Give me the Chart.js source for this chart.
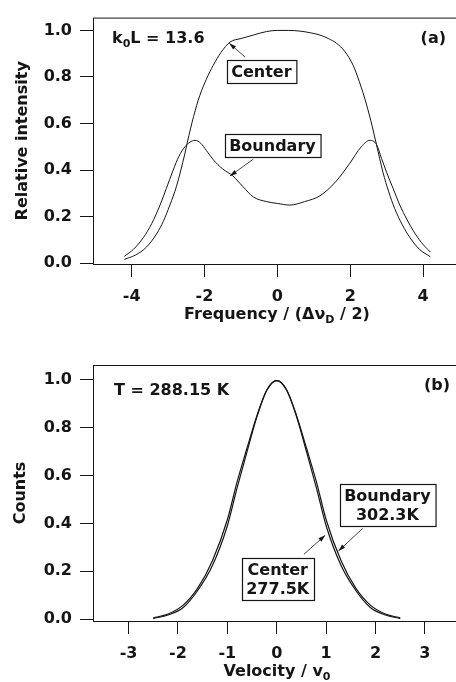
<!DOCTYPE html>
<html>
<head>
<meta charset="utf-8">
<script src="https://cdn.jsdelivr.net/npm/chart.js@4.4.0/dist/chart.umd.min.js"></script>
<style>
  body { margin: 0; background: #fff; }
  #wrap { position: relative; width: 456px; height: 682px; overflow: hidden; }
  canvas { position: absolute; left: 0; }
</style>
</head>
<body>
<div id="wrap">
  <canvas id="chartA" width="470" height="341" style="top:0"></canvas>
  <canvas id="chartB" width="470" height="341" style="top:341px"></canvas>
</div>
<script>
// (a) line profiles, k0L = 13.6
var freqCenter = [-4.2, -3.9, -3.59, -3.3, -3.13, -2.95, -2.77, -2.54, -2.47, -2.3, -2.13, -1.95, -1.76, -1.55, -1.3, -1.0, -0.66, -0.3, 0, 0.3, 0.62, 0.9, 1.17, 1.4, 1.62, 1.85, 2.08, 2.25, 2.45, 2.6, 2.72, 2.9, 3.05, 3.22, 3.43, 3.64, 3.9, 4.2];
var intCenter = [0.017, 0.035, 0.07, 0.13, 0.18, 0.25, 0.33, 0.47, 0.52, 0.63, 0.72, 0.79, 0.85, 0.905, 0.95, 0.965, 0.98, 0.995, 1.0, 1.0, 0.997, 0.99, 0.98, 0.965, 0.945, 0.91, 0.85, 0.78, 0.68, 0.59, 0.51, 0.39, 0.31, 0.235, 0.165, 0.11, 0.06, 0.028];
var freqBoundary = [-4.2, -3.95, -3.68, -3.45, -3.22, -3.05, -2.86, -2.7, -2.54, -2.4, -2.26, -2.1, -1.95, -1.76, -1.5, -1.22, -0.95, -0.66, -0.3, 0.0, 0.34, 0.75, 1.17, 1.6, 1.99, 2.3, 2.54, 2.72, 2.86, 3.0, 3.18, 3.36, 3.55, 3.73, 3.95, 4.2];
var intBoundary = [0.03, 0.06, 0.11, 0.17, 0.25, 0.32, 0.40, 0.46, 0.50, 0.52, 0.528, 0.515, 0.485, 0.445, 0.405, 0.375, 0.33, 0.285, 0.265, 0.257, 0.25, 0.265, 0.29, 0.35, 0.43, 0.50, 0.528, 0.51, 0.45, 0.39, 0.32, 0.25, 0.19, 0.14, 0.09, 0.048];
var freqTicks = [-4, -2, 0, 2, 4];

// (b) velocity distributions, T = 288.15 K
var velGrid = [-2.5, -2.2, -1.9, -1.6, -1.3, -1.0, -0.8, -0.6, -0.4, -0.2, 0, 0.2, 0.4, 0.6, 0.8, 1.0, 1.3, 1.6, 1.9, 2.2, 2.5];
var countsCenter = [0.003, 0.018, 0.048, 0.12, 0.225, 0.39, 0.55, 0.70, 0.845, 0.955, 0.995, 0.955, 0.845, 0.70, 0.55, 0.39, 0.225, 0.12, 0.048, 0.018, 0.003];
var countsBoundary = [0.006, 0.022, 0.058, 0.13, 0.245, 0.415, 0.575, 0.715, 0.85, 0.957, 0.995, 0.957, 0.85, 0.715, 0.575, 0.415, 0.245, 0.13, 0.058, 0.022, 0.006];
var velTicks = [-3, -2, -1, 0, 1, 2, 3];

var yTicks = [0, 0.2, 0.4, 0.6, 0.8, 1.0];

var FONT = '"DejaVu Sans", sans-serif';
var INK = '#151515';
Chart.defaults.font.family = FONT;
Chart.defaults.color = INK;

function pts(xs, ys) {
    return xs.map(function (x, i) { return { x: x, y: ys[i] }; });
}

// text with subscripts: parts = [[text, isSub], ...]
function drawRich(ctx, parts, x, y, align) {
    var w = 0;
    parts.forEach(function (p) {
        ctx.font = (p[1] ? 'bold 11px ' : 'bold 16px ') + FONT;
        w += ctx.measureText(p[0]).width;
    });
    var cx = align === 'center' ? x - w / 2 : (align === 'right' ? x - w : x);
    ctx.textAlign = 'left';
    ctx.textBaseline = 'alphabetic';
    parts.forEach(function (p) {
        ctx.font = (p[1] ? 'bold 11px ' : 'bold 16px ') + FONT;
        ctx.fillText(p[0], cx, p[1] ? y + 4 : y);
        cx += ctx.measureText(p[0]).width;
    });
}

function drawNote(chart, n) {
    var ctx = chart.ctx, xs = chart.scales.x, ys = chart.scales.y;
    var x1 = xs.getPixelForValue(n.from[0]), y1 = ys.getPixelForValue(n.from[1]);
    var x2 = xs.getPixelForValue(n.to[0]), y2 = ys.getPixelForValue(n.to[1]);
    ctx.strokeStyle = INK;
    ctx.fillStyle = INK;
    ctx.lineWidth = 0.8;
    ctx.beginPath();
    ctx.moveTo(x1, y1);
    ctx.lineTo(x2, y2);
    ctx.stroke();
    var a = Math.atan2(y2 - y1, x2 - x1);
    ctx.beginPath();
    ctx.moveTo(x2, y2);
    ctx.lineTo(x2 - 7 * Math.cos(a) + 2.2 * Math.sin(a), y2 - 7 * Math.sin(a) - 2.2 * Math.cos(a));
    ctx.lineTo(x2 - 7 * Math.cos(a) - 2.2 * Math.sin(a), y2 - 7 * Math.sin(a) + 2.2 * Math.cos(a));
    ctx.closePath();
    ctx.fill();

    ctx.font = 'bold 16px ' + FONT;
    var w = 0;
    n.lines.forEach(function (t) { w = Math.max(w, ctx.measureText(t).width); });
    w += 9;
    var h = n.lines.length * 19 + 4;
    var cx = xs.getPixelForValue(n.x), cy = ys.getPixelForValue(n.y);
    var bx = Math.round(cx - w / 2) + 0.5, by = Math.round(cy - h / 2) + 0.5;
    ctx.fillStyle = '#fff';
    ctx.fillRect(bx, by, w, h);
    ctx.lineWidth = 1.2;
    ctx.strokeRect(bx, by, w, h);
    ctx.fillStyle = INK;
    ctx.textAlign = 'center';
    ctx.textBaseline = 'middle';
    n.lines.forEach(function (t, i) {
        ctx.fillText(t, cx, cy - (n.lines.length - 1) * 9.5 + i * 19 + 1);
    });
}

var decor = {
    id: 'decor',
    afterDraw: function (chart, args, opts) {
        var ctx = chart.ctx, area = chart.chartArea;
        ctx.save();
        ctx.strokeStyle = INK;
        ctx.lineWidth = 1;
        ctx.strokeRect(area.left + 0.5, area.top + 0.5, area.right - area.left, area.bottom - area.top);
        ctx.fillStyle = INK;
        drawRich(ctx, opts.xTitle, (area.left + area.right) / 2, area.bottom + 54.5, 'center');
        drawRich(ctx, opts.corner, area.left + opts.cornerX, area.top + opts.cornerY, 'left');
        drawRich(ctx, [[opts.tag, false]], area.right - opts.tagX, area.top + 25, 'right');
        opts.notes.forEach(function (n) { drawNote(chart, n); });
        ctx.restore();
    }
};

function makeChart(id, sets, cfg) {
    return new Chart(document.getElementById(id), {
        type: 'line',
        data: {
            datasets: sets.map(function (s) {
                return {
                    data: s,
                    borderColor: INK,
                    borderWidth: cfg.lineWidth,
                    pointRadius: 0,
                    fill: false,
                    cubicInterpolationMode: 'monotone'
                };
            })
        },
        options: {
            responsive: false,
            animation: false,
            events: [],
            layout: { padding: { left: 0, right: 9, top: cfg.top, bottom: 0 } },
            plugins: {
                legend: { display: false },
                tooltip: { enabled: false },
                decor: cfg.decor
            },
            scales: {
                x: {
                    type: 'linear',
                    min: cfg.xMin,
                    max: cfg.xMax,
                    border: { display: false },
                    grid: { drawOnChartArea: false, drawTicks: true, tickLength: 13, color: INK, lineWidth: 1 },
                    ticks: {
                        font: { size: 16, weight: 'bold' },
                        color: INK,
                        padding: 10,
                        maxRotation: 0,
                        autoSkip: false,
                        callback: function (v) { return String(v); }
                    },
                    afterBuildTicks: function (s) {
                        s.ticks = cfg.xTicks.map(function (v) { return { value: v }; });
                    },
                    afterFit: function (s) { s.height = cfg.xHeight; }
                },
                y: {
                    min: cfg.yMin,
                    max: cfg.yMax,
                    border: { display: false },
                    grid: { drawOnChartArea: false, drawTicks: true, tickLength: 13, color: INK, lineWidth: 1 },
                    ticks: {
                        font: { size: 16, weight: 'bold' },
                        color: INK,
                        padding: 8,
                        callback: function (v) { return v.toFixed(1); }
                    },
                    afterBuildTicks: function (s) {
                        s.ticks = yTicks.map(function (v) { return { value: v }; });
                    },
                    title: {
                        display: true,
                        text: cfg.yTitle,
                        font: { size: 16, weight: 'bold' },
                        color: INK,
                        padding: { top: cfg.yTitlePad, bottom: 0 }
                    },
                    afterFit: function (s) { s.width = 93; }
                }
            }
        },
        plugins: [decor]
    });
}

makeChart('chartA', [pts(freqCenter, intCenter), pts(freqBoundary, intBoundary)], {
    lineWidth: 1,
    top: 10,
    xMin: -5.06, xMax: 5.04, xTicks: freqTicks, xHeight: 77,
    yMin: -0.003, yMax: 1.055,
    yTitle: 'Relative intensity', yTitlePad: 13,
    decor: {
        xTitle: [['Frequency / (\u0394\u03bd', false], ['D', true], [' / 2)', false]],
        corner: [['k', false], ['0', true], ['L = 13.6', false]],
        cornerX: 19, cornerY: 25.5,
        tag: '(a)', tagX: 15,
        notes: [
            { lines: ['Center'], x: -0.44, y: 0.823, from: [-0.89, 0.886], to: [-1.32, 0.945] },
            { lines: ['Boundary'], x: -0.135, y: 0.506, from: [-0.66, 0.447], to: [-1.30, 0.375] }
        ]
    }
});

makeChart('chartB', [pts(velGrid, countsCenter), pts(velGrid, countsBoundary)], {
    lineWidth: 1.2,
    top: 24,
    xMin: -3.72, xMax: 3.73, xTicks: velTicks, xHeight: 61,
    yMin: -0.007, yMax: 1.06,
    yTitle: 'Counts', yTitlePad: 11,
    decor: {
        xTitle: [['Velocity / v', false], ['0', true]],
        corner: [['T = 288.15 K', false]],
        cornerX: 21, cornerY: 30,
        tag: '(b)', tagX: 11,
        notes: [
            { lines: ['Boundary', '302.3K'], x: 2.24, y: 0.475, from: [1.74, 0.379], to: [1.25, 0.285] },
            { lines: ['Center', '277.5K'], x: 0.02, y: 0.168, from: [0.55, 0.271], to: [0.98, 0.35] }
        ]
    }
});
</script>
</body>
</html>
